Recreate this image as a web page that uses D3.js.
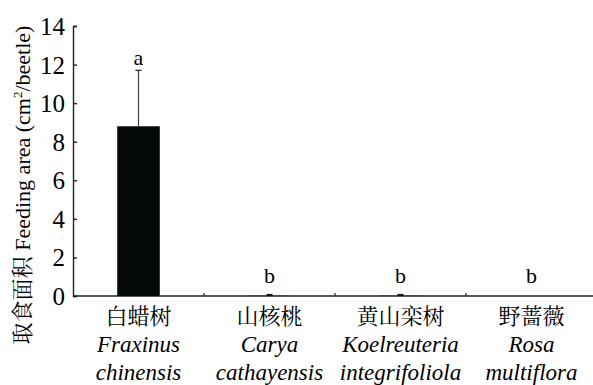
<!DOCTYPE html>
<html>
<head>
<meta charset="utf-8">
<script src="https://cdn.jsdelivr.net/npm/d3@7"></script>
<style>
  html, body { margin: 0; padding: 0; background: #fff; }
  svg { display: block; }
  .rm { font-family: "Liberation Serif", serif !important; }
  .it { font-family: "Liberation Serif", serif !important; font-style: italic; }
  .cn { font-family: "Noto Serif CJK SC", serif !important; }
</style>
</head>
<body>
<svg id="chart" width="593" height="385" style="font-family: 'Liberation Serif', serif"></svg>
<script>
// Host plants tested
const plantsCn = ["白蜡树", "山核桃", "黄山栾树", "野蔷薇"];
const plantsGenus = ["Fraxinus", "Carya", "Koelreuteria", "Rosa"];
const plantsSpecies = ["chinensis", "cathayensis", "integrifoliola", "multiflora"];
// Mean feeding area and its standard error (cm²/beetle)
const feedingMean = [8.8, 0.01, 0.01, 0];
const feedingErr = [2.9, 0.02, 0.02, 0];
// Significance letters
const sigLetters = ["a", "b", "b", "b"];
const yTicks = [0, 2, 4, 6, 8, 10, 12, 14];

const svg = d3.select("#chart");

const x0 = 73, x1 = 597, yBase = 296, yTop = 26;

const x = d3.scaleBand().domain(plantsCn).range([x0, x1]).paddingInner(0).paddingOuter(0);
const y = d3.scaleLinear().domain([0, 14]).range([yBase, yTop]);
const barW = x.bandwidth() * 0.325;

// Y axis (ticks point inward)
const yAxis = d3.axisLeft(y).tickValues(yTicks).tickSize(-4).tickPadding(8).tickFormat(d3.format("d"));
const gy = svg.append("g").attr("transform", `translate(${x0},0)`).call(yAxis)
  .attr("font-family", null).attr("font-size", null);
gy.select(".domain").attr("stroke", "#222").attr("stroke-width", 1.4);
gy.selectAll(".tick line").attr("stroke", "#222").attr("stroke-width", 1.4);
gy.selectAll(".tick text")
  .attr("class", "rm").style("font-size", "25px").attr("fill", "#000")
  .attr("dy", "0.34em");

// X axis with small upward ticks between categories
const gx = svg.append("g").attr("transform", `translate(0,${yBase})`);
gx.append("line").attr("x1", x0).attr("x2", x1).attr("stroke", "#222").attr("stroke-width", 1.4);
gx.selectAll("line.sep").data(plantsCn.slice(1)).join("line")
  .attr("class", "sep")
  .attr("x1", d => x(d)).attr("x2", d => x(d))
  .attr("y1", 0).attr("y2", -3)
  .attr("stroke", "#222").attr("stroke-width", 1.2);

// Bars
const cx = d => x(d) + x.bandwidth() / 2;
svg.append("g").selectAll("rect").data(plantsCn).join("rect")
  .attr("x", d => cx(d) - barW / 2)
  .attr("width", barW)
  .attr("y", (d, i) => y(feedingMean[i]))
  .attr("height", (d, i) => yBase - y(feedingMean[i]))
  .attr("fill", "#050808");

// Error bars
const eg = svg.append("g");
plantsCn.forEach((d, i) => {
  if (feedingErr[i] <= 0) return;
  const top = y(feedingMean[i] + feedingErr[i]);
  if (feedingMean[i] > 1) {
    eg.append("line").attr("x1", cx(d)).attr("x2", cx(d))
      .attr("y1", y(feedingMean[i])).attr("y2", top)
      .attr("stroke", "#444").attr("stroke-width", 1.2);
    eg.append("line").attr("x1", cx(d) - 3).attr("x2", cx(d) + 3)
      .attr("y1", top).attr("y2", top)
      .attr("stroke", "#222").attr("stroke-width", 1.2);
  } else {
    eg.append("line").attr("x1", cx(d) - 3).attr("x2", cx(d) + 3)
      .attr("y1", top - 0.5).attr("y2", top - 0.5)
      .attr("stroke", "#111").attr("stroke-width", 2);
  }
});

// Significance letters
svg.append("g").selectAll("text").data(plantsCn).join("text")
  .attr("class", "rm")
  .attr("x", d => cx(d))
  .attr("y", (d, i) => Math.min(y(feedingMean[i] + feedingErr[i]) - 5, yBase - 13))
  .attr("text-anchor", "middle")
  .style("font-size", "22px").attr("fill", "#000")
  .text((d, i) => sigLetters[i]);

// Category labels: Chinese name, then italic Latin binomial on two lines
const lg = svg.append("g");
plantsCn.forEach((d, i) => {
  lg.append("text").attr("class", "cn").attr("x", cx(d)).attr("y", 324)
    .attr("text-anchor", "middle").style("font-size", "22px")
    .attr("fill", "#000").text(d);
  lg.append("text").attr("class", "it").attr("x", cx(d)).attr("y", 352)
    .attr("text-anchor", "middle").style("font-size", "23px")
    .attr("fill", "#000").text(plantsGenus[i]);
  lg.append("text").attr("class", "it").attr("x", cx(d)).attr("y", 380)
    .attr("text-anchor", "middle").style("font-size", "23px")
    .attr("fill", "#000").text(plantsSpecies[i]);
});

// Y axis title
const yt = svg.append("text")
  .attr("class", "rm")
  .attr("transform", "translate(30,185) rotate(-90)")
  .attr("text-anchor", "middle")
  .style("font-size", "22px").attr("fill", "#000");
yt.append("tspan").attr("class", "cn").text("取食面积 ");
yt.append("tspan").text("Feeding area (cm");
yt.append("tspan").style("font-size", "13px").attr("dy", -8).text("2");
yt.append("tspan").attr("dy", 8).text("/beetle)");
</script>
</body>
</html>
